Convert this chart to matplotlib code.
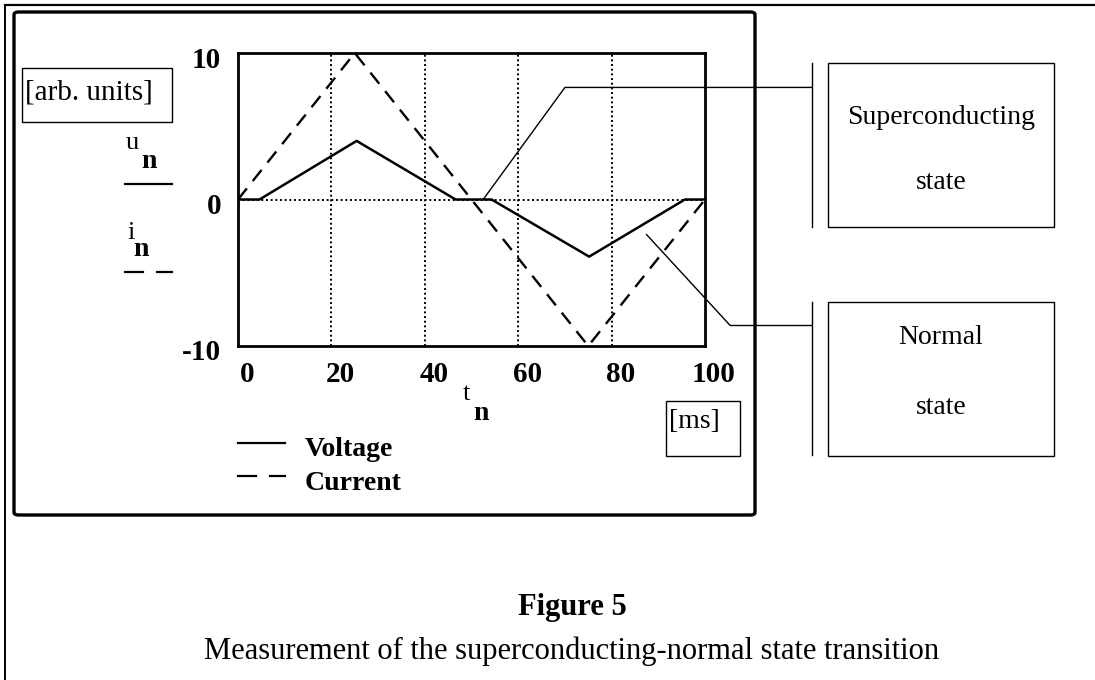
import matplotlib
matplotlib.use("Agg")
import matplotlib.pyplot as plt
from matplotlib.lines import Line2D
from matplotlib.patches import Rectangle, FancyBboxPatch
import matplotlib.transforms as mtransforms

# ---- data ----
t_voltage = [0, 4.6, 25.4, 46.6, 54.3, 75.2, 95.7, 100]
u_voltage = [0, 0, 4.0, 0, 0, -3.9, 0, 0]
t_current = [0, 25, 75, 100]
i_current = [0, 10, -10, 0]
x_ticks = [0, 20, 40, 60, 80, 100]
y_ticks = [-10, 0, 10]
x_grid = [20, 40, 60, 80]
# annotation anchor points (data coords) for the state call-outs
sc_anchor = (52.5, 0.0)
sc_bend = (70.0, 7.65)
nm_anchor = (87.5, -2.4)
nm_bend = (105.4, -8.6)

W, H = 1095, 680
plt.rcParams['font.family'] = ['Liberation Serif', 'DejaVu Serif']
fig = plt.figure(figsize=(W / 100, H / 100), dpi=100)

def fx(x):
    return x / W

def fy(y):
    return 1 - y / H

# axes placement (pixels)
axL, axR, axT, axB = 238, 705, 53, 346
ax = fig.add_axes([fx(axL), fy(axB), (axR - axL) / W, (axB - axT) / H])
ax.set_xlim(0, 100)
ax.set_ylim(-10, 10)

for xg in x_grid:
    ax.axvline(xg, color='black', lw=1.4, ls=(0, (1, 1.4)), zorder=1)
ax.axhline(0, color='black', lw=1.4, ls=(0, (1, 1.4)), zorder=1)

ax.plot(t_voltage, u_voltage, color='black', lw=1.8, zorder=3)
ax.plot(t_current, i_current, color='black', lw=1.7, dashes=(6, 4), zorder=3)

for s in ax.spines.values():
    s.set_linewidth(2.0)
ax.set_xticks(x_ticks)
ax.set_yticks(y_ticks)
ax.set_xticklabels([str(v) for v in x_ticks])
ax.set_yticklabels([str(v) for v in y_ticks])
ax.tick_params(length=0, labelsize=21, pad=11)
ax.tick_params(axis='y', pad=12)
for lab in ax.get_xticklabels() + ax.get_yticklabels():
    lab.set_fontweight('bold')
off_x = mtransforms.ScaledTranslation(9 / 100, 0, fig.dpi_scale_trans)
for lab in ax.get_xticklabels():
    lab.set_transform(lab.get_transform() + off_x)
off_y = mtransforms.ScaledTranslation(0, -4 / 100, fig.dpi_scale_trans)
for lab in ax.get_yticklabels():
    lab.set_transform(lab.get_transform() + off_y)

# ---- call-out leader lines ----
fig.canvas.draw()
def d2p(pt):
    px, py = ax.transData.transform(pt)
    return px, H - py  # pixel, top-origin

def fig_line(xs, ys, lw=1.0):
    fig.add_artist(Line2D([fx(x) for x in xs], [fy(y) for y in ys],
                          color='black', lw=lw, transform=fig.transFigure,
                          clip_on=False))

a = d2p(sc_anchor); b = d2p(sc_bend)
fig_line([a[0], b[0], 812], [a[1], b[1], b[1]])
a = d2p(nm_anchor); b = d2p(nm_bend)
fig_line([a[0], b[0], 812], [a[1], b[1], b[1]])

# brackets
fig_line([812, 812], [63, 227])
fig_line([812, 812], [302, 455])

def fig_box(x0, y0, x1, y1, lw=1.0):
    fig.add_artist(Rectangle((fx(x0), fy(y1)), (x1 - x0) / W, (y1 - y0) / H,
                             fill=False, ec='black', lw=lw,
                             transform=fig.transFigure))

fig_box(828, 63, 1054, 227)
fig_box(828, 302, 1054, 456)
fig.text(fx(941), fy(117), 'Superconducting', ha='center', va='center', fontsize=20)
fig.text(fx(941), fy(183), 'state', ha='center', va='center', fontsize=20)
fig.text(fx(941), fy(337), 'Normal', ha='center', va='center', fontsize=20)
fig.text(fx(941), fy(407), 'state', ha='center', va='center', fontsize=20)

# frames
fig.add_artist(FancyBboxPatch((fx(14), fy(515)), (755 - 14) / W, (515 - 12) / H,
                              boxstyle='round,pad=0,rounding_size=0.004',
                              fill=False, ec='black', lw=2.4,
                              transform=fig.transFigure))
fig_line([5, W], [5, 5], lw=1.6)
fig_line([5, 5], [5, H], lw=1.4)

# units boxes
fig_box(22, 68, 172, 122)
fig.text(fx(25), fy(92), '[arb. units]', ha='left', va='center', fontsize=21)
fig_box(666, 401, 740, 456)
fig.text(fx(669), fy(421), '[ms]', ha='left', va='center', fontsize=20)

# y-axis label u_n / i_n
fig.text(fx(126), fy(143), 'u', ha='left', va='center', fontsize=19)
fig.text(fx(141), fy(161), 'n', ha='left', va='center', fontsize=20, fontweight='bold')
fig_line([125, 172], [184, 184], lw=1.6)
fig.text(fx(127), fy(233), 'i', ha='left', va='center', fontsize=19)
fig.text(fx(133), fy(250), 'n', ha='left', va='center', fontsize=20, fontweight='bold')
fig_line([125, 143], [272, 272], lw=1.6)
fig_line([157, 172], [272, 272], lw=1.6)

# x-axis label t_n
fig.text(fx(466), fy(394), 't', ha='center', va='center', fontsize=19)
fig.text(fx(481), fy(414), 'n', ha='center', va='center', fontsize=20, fontweight='bold')

# legend
fig_line([238, 285], [443, 443], lw=1.6)
fig.text(fx(305), fy(450), 'Voltage', ha='left', va='center', fontsize=20, fontweight='bold')
fig_line([238, 256], [476, 476], lw=1.6)
fig_line([270, 285], [476, 476], lw=1.6)
fig.text(fx(305), fy(483), 'Current', ha='left', va='center', fontsize=20, fontweight='bold')

# caption
fig.text(fx(572), fy(607), 'Figure 5', ha='center', va='center', fontsize=22, fontweight='bold')
fig.text(fx(572), fy(651), 'Measurement of the superconducting-normal state transition',
         ha='center', va='center', fontsize=22)

fig.savefig('out.png', dpi=100)
